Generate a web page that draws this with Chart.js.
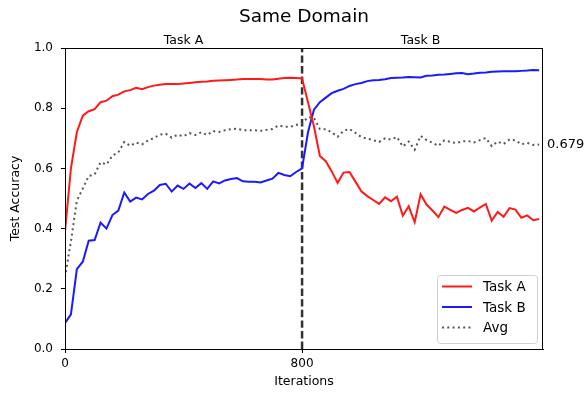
<!DOCTYPE html>
<html><head><meta charset="utf-8">
<script src="https://cdn.jsdelivr.net/npm/chart.js@4/dist/chart.umd.min.js"></script>
<style>html,body{margin:0;padding:0;background:#fff;}#wrap{width:587px;height:394px;}</style>
</head><body><div id="wrap"><canvas id="c" width="587" height="394"></canvas></div>
<script>
const iterations = [0,20,40,60,80,100,120,140,160,180,200,220,240,260,280,300,320,340,360,380,
  400,420,440,460,480,500,520,540,560,580,600,620,640,660,680,700,720,740,760,780,
  800,820,840,860,880,900,920,940,960,980,1000,1020,1040,1060,1080,1100,1120,1140,1160,1180,
  1200,1220,1240,1260,1280,1300,1320,1340,1360,1380,1400,1420,1440,1460,1480,1500,1520,1540,1560,1580,1600];
const taskA = [0.39,0.60,0.72,0.775,0.79,0.797,0.82,0.825,0.84,0.845,0.856,0.86,0.868,0.863,0.87,0.875,0.878,0.88,0.88,0.88,
  0.882,0.884,0.886,0.888,0.889,0.891,0.892,0.893,0.894,0.895,0.897,0.897,0.897,0.897,0.895,0.895,0.898,0.9,0.901,0.9,
  0.899,0.82,0.74,0.641,0.624,0.59,0.552,0.586,0.588,0.556,0.524,0.508,0.495,0.482,0.504,0.491,0.506,0.443,0.474,0.421,
  0.514,0.48,0.46,0.438,0.473,0.462,0.452,0.462,0.469,0.457,0.47,0.482,0.427,0.455,0.439,0.468,0.463,0.436,0.444,0.428,0.432];
const taskB = [0.086,0.115,0.265,0.29,0.36,0.362,0.42,0.40,0.445,0.46,0.52,0.49,0.503,0.497,0.515,0.526,0.545,0.549,0.523,0.543,
  0.532,0.55,0.535,0.551,0.532,0.557,0.55,0.56,0.565,0.568,0.557,0.556,0.556,0.553,0.56,0.566,0.585,0.578,0.574,0.588,
  0.60,0.72,0.795,0.82,0.835,0.85,0.858,0.864,0.874,0.88,0.884,0.89,0.893,0.894,0.896,0.9,0.901,0.902,0.904,0.903,
  0.902,0.908,0.909,0.911,0.912,0.914,0.916,0.917,0.913,0.915,0.918,0.919,0.921,0.922,0.923,0.923,0.923,0.924,0.925,0.927,0.926];
const avgAcc = [0.238,0.358,0.493,0.533,0.575,0.580,0.62,0.613,0.643,0.653,0.688,0.675,0.686,0.68,0.693,0.701,0.712,0.715,0.702,0.712,
  0.707,0.717,0.711,0.72,0.711,0.724,0.721,0.727,0.73,0.732,0.727,0.727,0.727,0.725,0.728,0.731,0.742,0.739,0.738,0.744,
  0.75,0.77,0.768,0.731,0.73,0.72,0.705,0.725,0.731,0.718,0.704,0.699,0.694,0.688,0.70,0.696,0.704,0.673,0.689,0.662,
  0.708,0.694,0.685,0.675,0.693,0.688,0.684,0.690,0.691,0.686,0.694,0.701,0.674,0.689,0.681,0.696,0.693,0.68,0.685,0.678,0.679];
const yTicks = [0, 0.2, 0.4, 0.6, 0.8, 1.0];
const xTicks = [0, 800];
const switchIter = 800;
const phaseNames = ['Task A', 'Task B'];
const phaseCenters = [400, 1200];
const seriesNames = ['Task A', 'Task B', 'Avg'];
const FONT = 'DejaVu Sans';

const toPts = arr => iterations.map((x, i) => ({x: x, y: arr[i]}));

const decor = {
  id: 'decor',
  beforeDatasetsDraw(chart) {
    const {ctx, chartArea: a, scales: {x}} = chart;
    const px = x.getPixelForValue(switchIter);
    ctx.save();
    ctx.strokeStyle = '#333';
    ctx.lineWidth = 2.5;
    ctx.setLineDash([7.4, 3.2]);
    ctx.beginPath(); ctx.moveTo(px, a.bottom); ctx.lineTo(px, a.top); ctx.stroke();
    ctx.restore();
  },
  afterDraw(chart) {
    const {ctx, chartArea: a, scales: {x, y}} = chart;
    ctx.save();
    // frame
    ctx.strokeStyle = '#000'; ctx.lineWidth = 1;
    ctx.strokeRect(a.left + 0.5, a.top + 0.5, a.right - a.left - 1, a.bottom - a.top);
    // title
    ctx.fillStyle = '#000';
    ctx.textAlign = 'center'; ctx.textBaseline = 'middle';
    ctx.font = '18.5px "' + FONT + '"';
    ctx.fillText('Same Domain', (a.left + a.right) / 2, 17);
    // phase labels
    ctx.font = '12.5px "' + FONT + '"';
    ctx.textBaseline = 'alphabetic';
    phaseNames.forEach((t, i) => ctx.fillText(t, x.getPixelForValue(phaseCenters[i]), a.top - 4));
    // final avg label
    const last = avgAcc[avgAcc.length - 1];
    ctx.textAlign = 'left'; ctx.textBaseline = 'middle';
    ctx.font = '13px "' + FONT + '"';
    ctx.fillText(last.toFixed(3), a.right + 4, y.getPixelForValue(last));
    // legend
    const bw = 100, bh = 68;
    const bx = a.right - 6 - bw, by = a.bottom - 6 - bh;
    ctx.beginPath();
    if (ctx.roundRect) ctx.roundRect(bx + 0.5, by + 0.5, bw, bh, 3); else ctx.rect(bx + 0.5, by + 0.5, bw, bh);
    ctx.fillStyle = 'rgba(255,255,255,0.8)'; ctx.fill();
    ctx.strokeStyle = '#d0d0d0'; ctx.lineWidth = 1; ctx.stroke();
    chart.data.datasets.forEach((ds, i) => {
      const ry = by + 11.5 + i * 20.5;
      ctx.strokeStyle = ds.borderColor; ctx.lineWidth = ds.borderWidth;
      ctx.setLineDash(ds.borderDash || []);
      ctx.beginPath(); ctx.moveTo(bx + 5, ry); ctx.lineTo(bx + 35, ry); ctx.stroke();
      ctx.setLineDash([]);
      ctx.fillStyle = '#000'; ctx.font = '13.5px "' + FONT + '"';
      ctx.textAlign = 'left'; ctx.textBaseline = 'middle';
      ctx.fillText(ds.label, bx + 46, ry + 1);
    });
    ctx.restore();
  }
};

new Chart(document.getElementById('c'), {
  type: 'line',
  data: {
    datasets: [
      {label: seriesNames[0], data: toPts(taskA), borderColor: '#ff1a1a', borderWidth: 2, pointRadius: 0, tension: 0, fill: false},
      {label: seriesNames[1], data: toPts(taskB), borderColor: '#1a1aff', borderWidth: 2, pointRadius: 0, tension: 0, fill: false},
      {label: seriesNames[2], data: toPts(avgAcc), borderColor: '#555555', borderWidth: 2, borderDash: [2, 3.3], pointRadius: 0, tension: 0, fill: false}
    ]
  },
  options: {
    responsive: false, animation: false, devicePixelRatio: 1,
    layout: {padding: {left: 0, right: 44, top: 48, bottom: 0}},
    plugins: {legend: {display: false}, tooltip: {enabled: false}, title: {display: false}},
    scales: {
      x: {
        type: 'linear', min: 0, max: 1613,
        afterBuildTicks: s => { s.ticks = xTicks.map(v => ({value: v})); },
        afterFit: s => { s.height = 45; },
        ticks: {color: '#000', font: {family: FONT, size: 12}, padding: 4, maxRotation: 0, autoSkip: false, callback: v => String(v)},
        grid: {drawOnChartArea: false, drawTicks: true, tickLength: 4, color: '#000'},
        border: {display: true, color: '#000', width: 1},
        title: {display: true, text: 'Iterations', color: '#000', font: {family: FONT, size: 12.5}, padding: {top: 0, bottom: 5}}
      },
      y: {
        min: 0, max: 1,
        afterBuildTicks: s => { s.ticks = yTicks.map(v => ({value: v})); },
        afterFit: s => { s.width = 65; },
        ticks: {color: '#000', font: {family: FONT, size: 12}, padding: 8, callback: v => Number(v).toFixed(1)},
        grid: {drawOnChartArea: false, drawTicks: true, tickLength: 4, color: '#000'},
        border: {display: true, color: '#000', width: 1},
        title: {display: true, text: 'Test Accuracy', color: '#000', font: {family: FONT, size: 12.5}, padding: {top: 8, bottom: 0}}
      }
    }
  },
  plugins: [decor]
});
</script></body></html>
